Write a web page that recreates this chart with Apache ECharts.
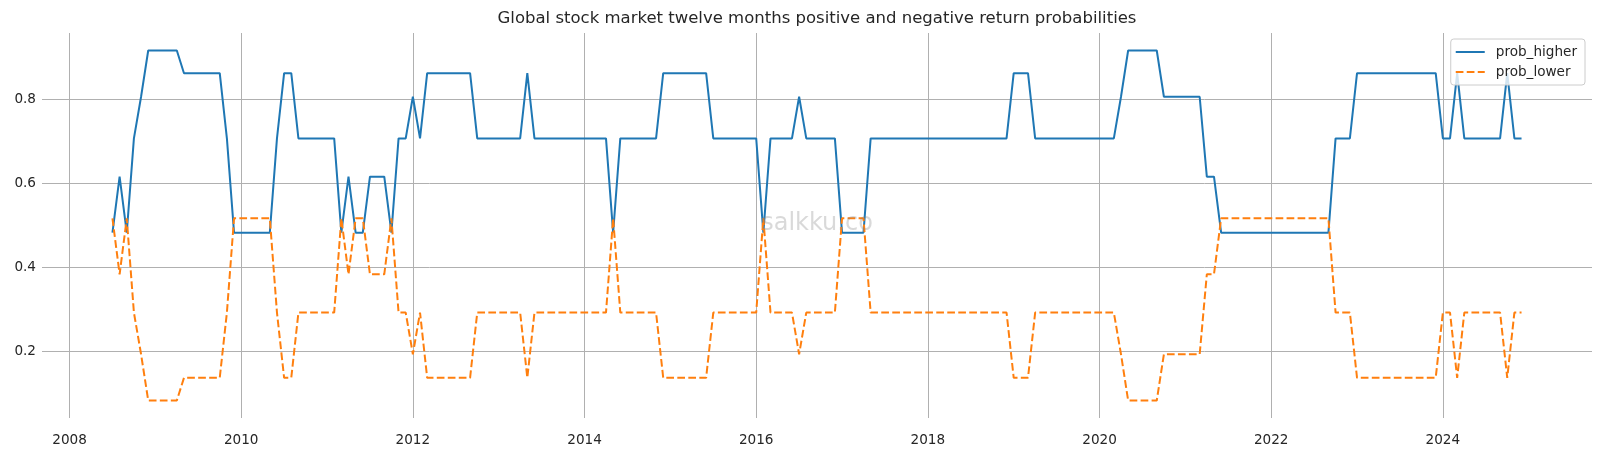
<!DOCTYPE html>
<html>
<head>
<meta charset="utf-8">
<title>Global stock market twelve months return probabilities</title>
<script src="https://cdn.jsdelivr.net/npm/echarts@6/dist/echarts.min.js"></script>
<style>
  html, body { margin: 0; padding: 0; background: #ffffff; }
  #main { width: 1601px; height: 451px; }
</style>
</head>
<body>
<div id="main"></div>
<script>
// month-end observations, Jun 2008 .. Nov 2024
const months = [
  '2008-06', '2008-07', '2008-08', '2008-09', '2008-10', '2008-11', '2008-12',
  '2009-01', '2009-02', '2009-03', '2009-04', '2009-05', '2009-06', '2009-07', '2009-08', '2009-09', '2009-10', '2009-11', '2009-12',
  '2010-01', '2010-02', '2010-03', '2010-04', '2010-05', '2010-06', '2010-07', '2010-08', '2010-09', '2010-10', '2010-11', '2010-12',
  '2011-01', '2011-02', '2011-03', '2011-04', '2011-05', '2011-06', '2011-07', '2011-08', '2011-09', '2011-10', '2011-11', '2011-12',
  '2012-01', '2012-02', '2012-03', '2012-04', '2012-05', '2012-06', '2012-07', '2012-08', '2012-09', '2012-10', '2012-11', '2012-12',
  '2013-01', '2013-02', '2013-03', '2013-04', '2013-05', '2013-06', '2013-07', '2013-08', '2013-09', '2013-10', '2013-11', '2013-12',
  '2014-01', '2014-02', '2014-03', '2014-04', '2014-05', '2014-06', '2014-07', '2014-08', '2014-09', '2014-10', '2014-11', '2014-12',
  '2015-01', '2015-02', '2015-03', '2015-04', '2015-05', '2015-06', '2015-07', '2015-08', '2015-09', '2015-10', '2015-11', '2015-12',
  '2016-01', '2016-02', '2016-03', '2016-04', '2016-05', '2016-06', '2016-07', '2016-08', '2016-09', '2016-10', '2016-11', '2016-12',
  '2017-01', '2017-02', '2017-03', '2017-04', '2017-05', '2017-06', '2017-07', '2017-08', '2017-09', '2017-10', '2017-11', '2017-12',
  '2018-01', '2018-02', '2018-03', '2018-04', '2018-05', '2018-06', '2018-07', '2018-08', '2018-09', '2018-10', '2018-11', '2018-12',
  '2019-01', '2019-02', '2019-03', '2019-04', '2019-05', '2019-06', '2019-07', '2019-08', '2019-09', '2019-10', '2019-11', '2019-12',
  '2020-01', '2020-02', '2020-03', '2020-04', '2020-05', '2020-06', '2020-07', '2020-08', '2020-09', '2020-10', '2020-11', '2020-12',
  '2021-01', '2021-02', '2021-03', '2021-04', '2021-05', '2021-06', '2021-07', '2021-08', '2021-09', '2021-10', '2021-11', '2021-12',
  '2022-01', '2022-02', '2022-03', '2022-04', '2022-05', '2022-06', '2022-07', '2022-08', '2022-09', '2022-10', '2022-11', '2022-12',
  '2023-01', '2023-02', '2023-03', '2023-04', '2023-05', '2023-06', '2023-07', '2023-08', '2023-09', '2023-10', '2023-11', '2023-12',
  '2024-01', '2024-02', '2024-03', '2024-04', '2024-05', '2024-06', '2024-07', '2024-08', '2024-09', '2024-10', '2024-11'
];

const probHigher = [
  0.483, 0.616, 0.483, 0.707, 0.806, 0.916, 0.916,
  0.916, 0.916, 0.916, 0.862, 0.862, 0.862, 0.862, 0.862, 0.862, 0.707, 0.483, 0.483,
  0.483, 0.483, 0.483, 0.483, 0.707, 0.862, 0.862, 0.707, 0.707, 0.707, 0.707, 0.707,
  0.707, 0.483, 0.616, 0.483, 0.483, 0.616, 0.616, 0.616, 0.483, 0.707, 0.707, 0.806,
  0.707, 0.862, 0.862, 0.862, 0.862, 0.862, 0.862, 0.862, 0.707, 0.707, 0.707, 0.707,
  0.707, 0.707, 0.707, 0.862, 0.707, 0.707, 0.707, 0.707, 0.707, 0.707, 0.707, 0.707,
  0.707, 0.707, 0.707, 0.483, 0.707, 0.707, 0.707, 0.707, 0.707, 0.707, 0.862, 0.862,
  0.862, 0.862, 0.862, 0.862, 0.862, 0.707, 0.707, 0.707, 0.707, 0.707, 0.707, 0.707,
  0.483, 0.707, 0.707, 0.707, 0.707, 0.806, 0.707, 0.707, 0.707, 0.707, 0.707, 0.483,
  0.483, 0.483, 0.483, 0.707, 0.707, 0.707, 0.707, 0.707, 0.707, 0.707, 0.707, 0.707,
  0.707, 0.707, 0.707, 0.707, 0.707, 0.707, 0.707, 0.707, 0.707, 0.707, 0.707, 0.862,
  0.862, 0.862, 0.707, 0.707, 0.707, 0.707, 0.707, 0.707, 0.707, 0.707, 0.707, 0.707,
  0.707, 0.707, 0.806, 0.916, 0.916, 0.916, 0.916, 0.916, 0.806, 0.806, 0.806, 0.806,
  0.806, 0.806, 0.616, 0.616, 0.483, 0.483, 0.483, 0.483, 0.483, 0.483, 0.483, 0.483,
  0.483, 0.483, 0.483, 0.483, 0.483, 0.483, 0.483, 0.483, 0.707, 0.707, 0.707, 0.862,
  0.862, 0.862, 0.862, 0.862, 0.862, 0.862, 0.862, 0.862, 0.862, 0.862, 0.862, 0.707,
  0.707, 0.862, 0.707, 0.707, 0.707, 0.707, 0.707, 0.707, 0.862, 0.707, 0.707
];

const probLower = [
  0.517, 0.384, 0.517, 0.293, 0.194, 0.084, 0.084,
  0.084, 0.084, 0.084, 0.138, 0.138, 0.138, 0.138, 0.138, 0.138, 0.293, 0.517, 0.517,
  0.517, 0.517, 0.517, 0.517, 0.293, 0.138, 0.138, 0.293, 0.293, 0.293, 0.293, 0.293,
  0.293, 0.517, 0.384, 0.517, 0.517, 0.384, 0.384, 0.384, 0.517, 0.293, 0.293, 0.194,
  0.293, 0.138, 0.138, 0.138, 0.138, 0.138, 0.138, 0.138, 0.293, 0.293, 0.293, 0.293,
  0.293, 0.293, 0.293, 0.138, 0.293, 0.293, 0.293, 0.293, 0.293, 0.293, 0.293, 0.293,
  0.293, 0.293, 0.293, 0.517, 0.293, 0.293, 0.293, 0.293, 0.293, 0.293, 0.138, 0.138,
  0.138, 0.138, 0.138, 0.138, 0.138, 0.293, 0.293, 0.293, 0.293, 0.293, 0.293, 0.293,
  0.517, 0.293, 0.293, 0.293, 0.293, 0.194, 0.293, 0.293, 0.293, 0.293, 0.293, 0.517,
  0.517, 0.517, 0.517, 0.293, 0.293, 0.293, 0.293, 0.293, 0.293, 0.293, 0.293, 0.293,
  0.293, 0.293, 0.293, 0.293, 0.293, 0.293, 0.293, 0.293, 0.293, 0.293, 0.293, 0.138,
  0.138, 0.138, 0.293, 0.293, 0.293, 0.293, 0.293, 0.293, 0.293, 0.293, 0.293, 0.293,
  0.293, 0.293, 0.194, 0.084, 0.084, 0.084, 0.084, 0.084, 0.194, 0.194, 0.194, 0.194,
  0.194, 0.194, 0.384, 0.384, 0.517, 0.517, 0.517, 0.517, 0.517, 0.517, 0.517, 0.517,
  0.517, 0.517, 0.517, 0.517, 0.517, 0.517, 0.517, 0.517, 0.293, 0.293, 0.293, 0.138,
  0.138, 0.138, 0.138, 0.138, 0.138, 0.138, 0.138, 0.138, 0.138, 0.138, 0.138, 0.293,
  0.293, 0.138, 0.293, 0.293, 0.293, 0.293, 0.293, 0.293, 0.138, 0.293, 0.293
];

const titleText = 'Global stock market twelve months positive and negative return probabilities';
const watermark = 'salkku.co';
const FONT = 'DejaVu Sans';
const TEXT = '#262626';

// month-end position on a decimal-year axis
function toYear(m) {
  const parts = m.split('-');
  return Number(parts[0]) + Number(parts[1]) / 12;
}

const xs = months.map(toYear);
const higherData = xs.map((x, i) => [x, probHigher[i]]);
const lowerData = xs.map((x, i) => [x, probLower[i]]);

// matplotlib-like 5% margins
const xLo = Math.min(...xs), xHi = Math.max(...xs);
const allY = probHigher.concat(probLower);
const yLo = Math.min(...allY), yHi = Math.max(...allY);
const xPad = (xHi - xLo) * 0.05, yPad = (yHi - yLo) * 0.05;

const isNear = (a, b) => Math.abs(a - b) < 1e-6;

const chart = echarts.init(document.getElementById('main'));
chart.setOption({
  backgroundColor: '#ffffff',
  animation: false,
  textStyle: { fontFamily: FONT, color: TEXT },
  grid: { left: 42, right: 9, top: 33, bottom: 33, containLabel: false, outerBoundsMode: 'none' },
  legend: {
    orient: 'vertical',
    right: 16,
    top: 39,
    itemWidth: 29,
    itemHeight: 14,
    itemGap: 6,
    padding: [6, 8, 6, 4],
    backgroundColor: 'rgba(255,255,255,0.8)',
    borderColor: '#cccccc',
    borderWidth: 1,
    borderRadius: 3,
    // hide the marker dot, keep only the line sample
    itemStyle: { opacity: 0, borderWidth: 0 },
    textStyle: { fontFamily: FONT, fontSize: 13.6, color: TEXT, padding: [0, 0, 0, 6] },
    data: ['prob_higher', 'prob_lower']
  },
  xAxis: {
    type: 'value',
    min: xLo - xPad,
    max: xHi + xPad,
    splitNumber: 9,
    axisLine: { show: false },
    axisTick: { show: false },
    axisLabel: {
      margin: 15,
      fontFamily: FONT,
      fontSize: 13.6,
      color: TEXT,
      formatter: v => (isNear(v, Math.round(v)) ? String(Math.round(v)) : '')
    },
    splitLine: { show: true, showMinLine: false, showMaxLine: false, lineStyle: { color: '#b0b0b0', width: 1 } }
  },
  yAxis: {
    type: 'value',
    min: yLo - yPad,
    max: yHi + yPad,
    splitNumber: 5,
    axisLine: { show: false },
    axisTick: { show: false },
    axisLabel: {
      margin: 6,
      fontFamily: FONT,
      fontSize: 13.6,
      color: TEXT,
      formatter: v => (isNear(v * 10, Math.round(v * 10)) ? v.toFixed(1) : '')
    },
    splitLine: { show: true, showMinLine: false, showMaxLine: false, lineStyle: { color: '#b0b0b0', width: 1 } }
  },
  series: [
    {
      name: 'prob_higher',
      type: 'line',
      data: higherData,
      symbol: 'none',
      itemStyle: { color: '#1f77b4' },
      lineStyle: { color: '#1f77b4', width: 2 }
    },
    {
      name: 'prob_lower',
      type: 'line',
      data: lowerData,
      symbol: 'none',
      itemStyle: { color: '#ff7f0e' },
      lineStyle: { color: '#ff7f0e', width: 2, type: [7.7, 3.3] }
    }
  ],
  graphic: [
    {
      type: 'text',
      x: 817,
      y: 18.8,
      style: { text: titleText, font: '16.5px "DejaVu Sans"', fill: TEXT, textAlign: 'center', textVerticalAlign: 'middle' }
    },
    {
      type: 'text',
      x: 817,
      y: 224,
      z: 100,
      silent: true,
      style: { text: watermark, font: '24px "DejaVu Sans"', fill: 'rgba(128,128,128,0.3)', textAlign: 'center', textVerticalAlign: 'middle' }
    }
  ]
});
</script>
</body>
</html>
